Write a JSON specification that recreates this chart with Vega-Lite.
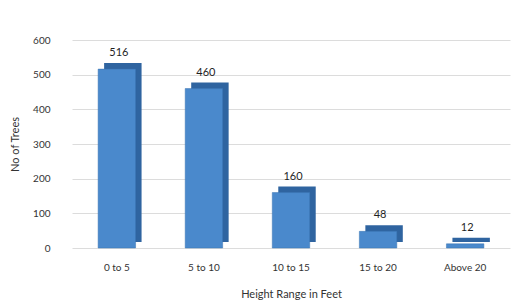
{
  "$schema": "https://vega.github.io/schema/vega-lite/v6.json",
  "width": 438,
  "height": 208,
  "autosize": {"type": "none"},
  "padding": {"left": 72, "top": 40, "right": 11, "bottom": 58},
  "background": "white",
  "config": {"font": "Lato", "view": {"stroke": null}},
  "data": {"values": [
    {"range": "0 to 5", "trees": 516},
    {"range": "5 to 10", "trees": 460},
    {"range": "10 to 15", "trees": 160},
    {"range": "15 to 20", "trees": 48},
    {"range": "Above 20", "trees": 12}
  ]},
  "encoding": {
    "x": {"field": "range", "type": "nominal", "sort": null,
      "scale": {"paddingInner": 0.57, "paddingOuter": 0.3},
      "axis": {"title": "Height Range in Feet", "labelAngle": 0, "domain": false, "ticks": false,
        "labelFontSize": 10, "labelColor": "#333333", "labelPadding": 14,
        "titleFontSize": 11, "titleFontWeight": "normal", "titleColor": "#333333", "titlePadding": 16}},
    "y": {"field": "trees", "type": "quantitative",
      "scale": {"domain": [0, 600]},
      "axis": {"title": "No of Trees", "values": [0, 100, 200, 300, 400, 500, 600],
        "labelOverlap": false, "domain": false, "ticks": false, "gridColor": "#dcdcdc",
        "labelFontSize": 10, "labelColor": "#333333", "labelPadding": 22,
        "titleFontSize": 11, "titleFontWeight": "normal", "titleColor": "#333333", "titlePadding": 12}}
  },
  "layer": [
    {"mark": {"type": "bar", "color": "#2f64a0", "xOffset": 6, "yOffset": -6}},
    {"mark": {"type": "bar", "color": "#4a89cc", "stroke": "#3a74b3", "strokeWidth": 0.5}},
    {"mark": {"type": "text", "dy": -16, "dx": 2, "fontSize": 11, "color": "#1f1f1f"},
      "encoding": {"text": {"field": "trees", "type": "quantitative"}}}
  ]
}
